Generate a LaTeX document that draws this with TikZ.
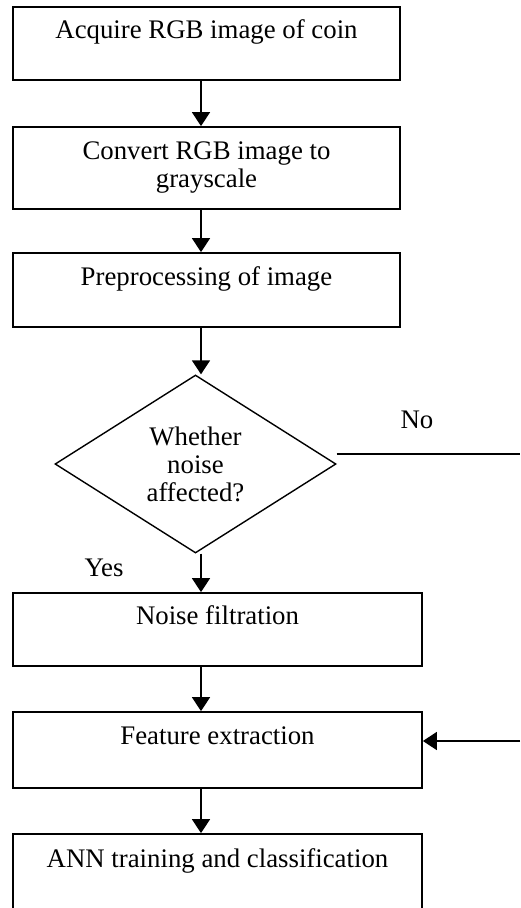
\documentclass[tikz,border=0pt]{standalone}
\usepackage{fontspec}
\setmainfont{Liberation Serif}
\usetikzlibrary{shapes.geometric,arrows.meta}

\begin{document}
\begin{tikzpicture}[x=1pt, y=-1pt,
  every node/.style={font=\fontsize{26.8}{28}\selectfont},
  stepbox/.style={draw, line width=1.8pt, align=center, inner sep=0pt},
  flow/.style={line width=1.8pt, -{Triangle[length=14pt,width=18pt]}}]
  \useasboundingbox (0,0) rectangle (520,908);
  \node[stepbox, minimum width=387pt, minimum height=73pt] (acquire) at (206.5,43.5) {Acquire RGB image of coin\\~};
  \node[stepbox, minimum width=387pt, minimum height=82pt] (convert) at (206.5,168) {Convert RGB image to\\grayscale};
  \node[stepbox, minimum width=387pt, minimum height=74pt] (prep) at (206.5,290) {Preprocessing of image\\~};
  \node[draw, diamond, line width=1.4pt, align=center, inner sep=0pt, shape aspect=1.58,
        minimum width=281pt, minimum height=178pt] (noisy) at (195.5,464) {Whether\\noise\\affected?};
  \node[stepbox, minimum width=409pt, minimum height=73pt] (filter) at (217.5,629.5) {Noise filtration\\~};
  \node[stepbox, minimum width=409pt, minimum height=76pt] (feature) at (217.5,750) {Feature extraction\\~};
  \node[stepbox, minimum width=409pt, minimum height=76pt] (ann) at (217.5,872) {ANN training and classification\\~};
  \node (no) at (417,420) {No};
  \node (yes) at (104,568) {Yes};
  \coordinate (axis) at (201,0);
  \coordinate (noend) at (520,454);
  \coordinate (back) at (520,741);
  \foreach \a/\b in {acquire/convert,convert/prep,prep/noisy,noisy/filter,filter/feature,feature/ann}
    \draw[flow] (\a.south -| axis) -- (\b.north -| axis);
  \draw[line width=1.6pt] (noisy.east |- noend) -- (noend);
  \draw[flow] (back) -- (feature.east |- back);
\end{tikzpicture}
\end{document}
